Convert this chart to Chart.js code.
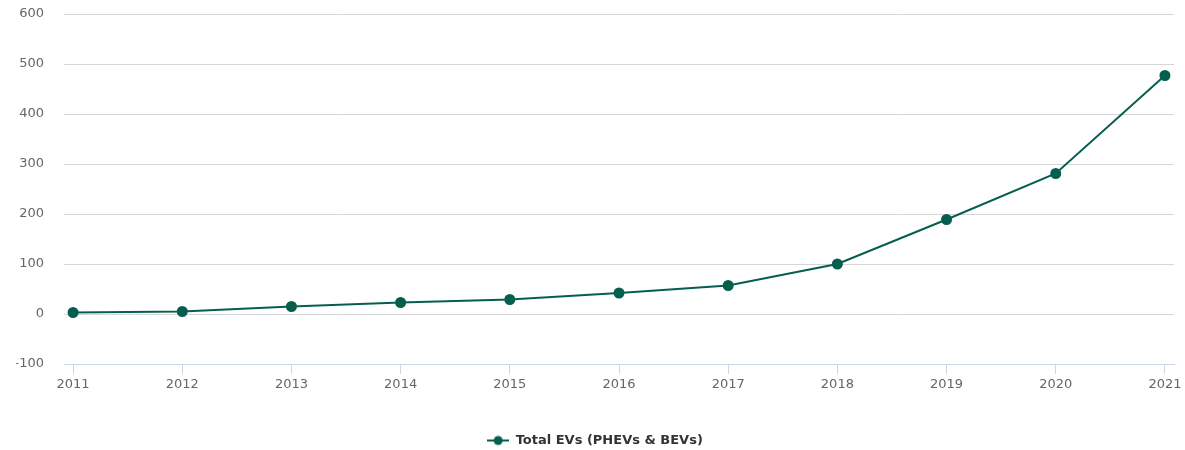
<!DOCTYPE html>
<html>
<head>
<meta charset="utf-8">
<script src="https://cdn.jsdelivr.net/npm/chart.js@4/dist/chart.umd.min.js"></script>
<style>
  body { margin: 0; background: #fff; }
  #wrap { width: 1185px; height: 450px; position: relative; }
</style>
</head>
<body>
<div id="wrap"><canvas id="evChart"></canvas></div>
<script>
// values
var years = [2011, 2012, 2013, 2014, 2015, 2016, 2017, 2018, 2019, 2020, 2021];
var totalEVs = [3, 5, 15, 23, 29, 42, 57, 100, 189, 281, 477];
var yTicks = [-100, 0, 100, 200, 300, 400, 500, 600];
var seriesName = 'Total EVs (PHEVs & BEVs)';
var green = '#065f4e';
var fontName = 'DejaVu Sans';

// legend symbol: short line with a dot, like the original
function legendSymbol() {
    var c = document.createElement('canvas');
    c.width = 22; c.height = 12;
    var g = c.getContext('2d');
    g.strokeStyle = green;
    g.lineWidth = 2;
    g.beginPath(); g.moveTo(0, 6); g.lineTo(22, 6); g.stroke();
    g.fillStyle = green;
    g.beginPath(); g.arc(11, 6, 4.5, 0, Math.PI * 2); g.fill();
    return c;
}

// nudge the legend a bit lower, closer to the bottom edge
var legendNudge = {
    id: 'legendNudge',
    afterLayout: function (chart) {
        if (chart.legend) {
            chart.legend.top += 7;
            chart.legend.bottom += 7;
        }
    }
};

var points = years.map(function (y, i) { return { x: y, y: totalEVs[i] }; });

var ctx = document.getElementById('evChart').getContext('2d');
new Chart(ctx, {
    type: 'line',
    data: {
        datasets: [{
            label: seriesName,
            data: points,
            borderColor: green,
            backgroundColor: green,
            borderWidth: 2,
            pointRadius: 4.5,
            pointHoverRadius: 5,
            tension: 0
        }]
    },
    plugins: [legendNudge],
    options: {
        responsive: true,
        maintainAspectRatio: false,
        animation: false,
        layout: { padding: { top: 14, right: 11, left: 16, bottom: 0 } },
        plugins: {
            tooltip: { enabled: false },
            legend: {
                position: 'bottom',
                labels: {
                    padding: 1,
                    color: '#333333',
                    font: { family: fontName, size: 13, weight: 'bold', lineHeight: 1 },
                    usePointStyle: true,
                    pointStyleWidth: 22,
                    generateLabels: function (chart) {
                        var items = Chart.defaults.plugins.legend.labels.generateLabels(chart);
                        items.forEach(function (it) { it.pointStyle = legendSymbol(); });
                        return items;
                    }
                }
            }
        },
        scales: {
            x: {
                type: 'linear',
                min: 2011 - 0.083,
                max: 2021 + 0.083,
                afterBuildTicks: function (scale) {
                    scale.ticks = years.map(function (y) { return { value: y }; });
                },
                afterFit: function (scale) { scale.height = 62; },
                grid: {
                    drawOnChartArea: false,
                    drawTicks: true,
                    tickLength: 10,
                    color: '#ccd6eb'
                },
                border: { display: true, color: '#ccd6eb', width: 1 },
                ticks: {
                    color: '#666666',
                    padding: 3,
                    maxRotation: 0,
                    font: { family: fontName, size: 13 },
                    callback: function (v) { return String(v); }
                }
            },
            y: {
                min: -100,
                max: 600,
                afterBuildTicks: function (scale) {
                    scale.ticks = yTicks.map(function (v) { return { value: v }; });
                },
                afterFit: function (scale) { scale.width = 48; },
                grid: { color: '#d6d6d6', drawTicks: true, tickLength: 20, tickColor: 'rgba(0,0,0,0)' },
                border: { display: false },
                ticks: {
                    color: '#666666',
                    padding: 0,
                    font: { family: fontName, size: 13 },
                    callback: function (v) { return v < 0 ? '\u2013' + Math.abs(v) : String(v); }
                }
            }
        }
    }
});
</script>
</body>
</html>
